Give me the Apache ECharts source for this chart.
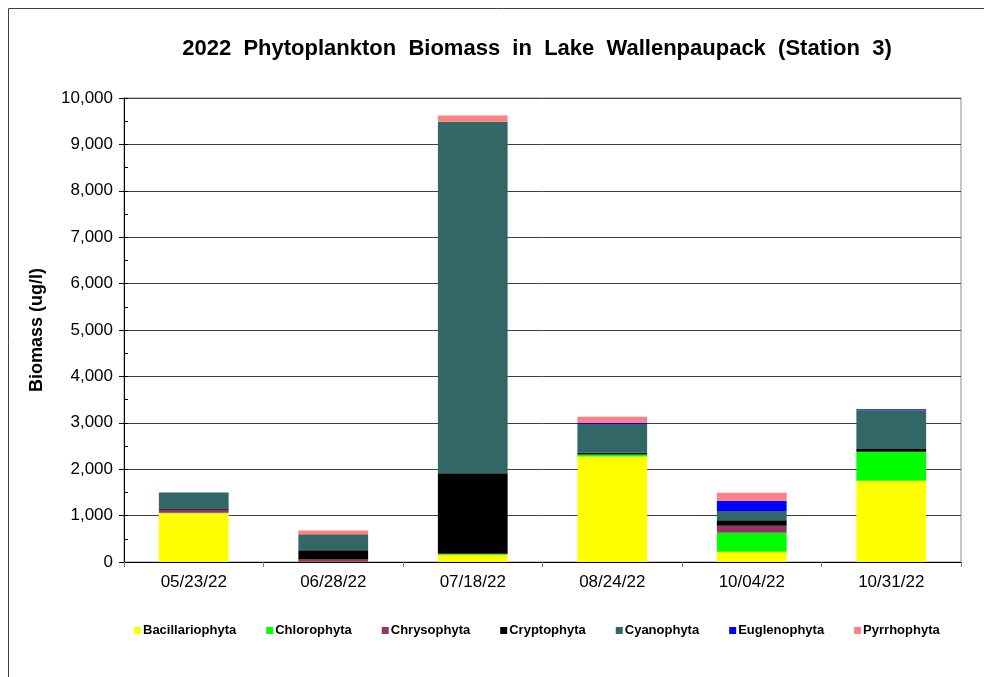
<!DOCTYPE html>
<html>
<head>
<meta charset="utf-8">
<script src="https://cdn.jsdelivr.net/npm/echarts@6/dist/echarts.min.js"></script>
<style>
  html, body { margin: 0; padding: 0; background: #fff; }
  #chart { width: 984px; height: 677px; }
</style>
</head>
<body>
<div id="chart"></div>
<script>
var dates = ['05/23/22', '06/28/22', '07/18/22', '08/24/22', '10/04/22', '10/31/22'];
var bacillariophyta = [1050, 5, 158, 2276, 223, 1753];
var chlorophyta = [10, 0, 15, 43, 409, 625];
var chrysophyta = [65, 50, 5, 0, 151, 0];
var cryptophyta = [15, 200, 1735, 36, 115, 57];
var cyanophyta = [360, 345, 7573, 618, 201, 833];
var euglenophyta = [0, 0, 0, 22, 223, 22];
var pyrrhophyta = [0, 79, 135, 136, 172, 0];
var yTicks = [0, 1000, 2000, 3000, 4000, 5000, 6000, 7000, 8000, 9000, 10000];

var font = 'Liberation Sans, Arial, sans-serif';

function bar(name, data, color) {
    return {
        name: name,
        type: 'bar',
        stack: 'total',
        barWidth: '50%',
        data: data,
        itemStyle: { color: color },
        emphasis: { disabled: true }
    };
}

var chart = echarts.init(document.getElementById('chart'));
chart.setOption({
    animation: false,
    title: {
        text: '2022  Phytoplankton  Biomass  in  Lake  Wallenpaupack  (Station  3)',
        left: 532,
        textAlign: 'center',
        top: 33,
        textStyle: { fontFamily: font, fontSize: 22, fontWeight: 'bold', color: '#000' }
    },
    graphic: [{
        type: 'rect',
        shape: { x: 8.5, y: 8.5, width: 1000, height: 700 },
        style: { fill: 'none', stroke: '#404040', lineWidth: 1 },
        silent: true
    }],
    legend: {
        left: 129,
        top: 619,
        icon: 'rect',
        itemWidth: 7,
        itemHeight: 7,
        itemGap: 30,
        textStyle: { fontFamily: font, fontSize: 13, fontWeight: 'bold', color: '#000', padding: [0, 0, 0, -3] },
        data: ['Bacillariophyta', 'Chlorophyta', 'Chrysophyta', 'Cryptophyta', 'Cyanophyta', 'Euglenophyta', 'Pyrrhophyta']
    },
    grid: {
        left: 124, right: 23, top: 98, bottom: 115,
        show: true, borderColor: '#8c8c8c', borderWidth: 1, backgroundColor: 'transparent'
    },
    xAxis: {
        type: 'category',
        data: dates,
        boundaryGap: true,
        axisLine: { lineStyle: { color: '#000', width: 1 } },
        axisTick: { show: true, alignWithLabel: false, length: 5, lineStyle: { color: '#808080' } },
        axisLabel: { fontFamily: font, fontSize: 17, color: '#000', margin: 12 }
    },
    yAxis: [{
        type: 'value',
        min: yTicks[0],
        max: yTicks[yTicks.length - 1],
        interval: 1000,
        name: 'Biomass (ug/l)',
        nameLocation: 'middle',
        nameGap: 78,
        nameTextStyle: { fontFamily: font, fontSize: 18, fontWeight: 'bold', color: '#000' },
        axisLine: { show: true, lineStyle: { color: '#000', width: 1 } },
        axisTick: { show: true, length: 5, lineStyle: { color: '#000' } },
        axisLabel: {
            fontFamily: font, fontSize: 17, color: '#000', margin: 11,
            formatter: function (v) { return v.toLocaleString('en-US'); }
        },
        splitLine: { show: true, lineStyle: { color: '#404040', width: 1 } }
    }, {
        type: 'value',
        position: 'left',
        min: 0,
        max: 10000,
        interval: 500,
        axisLine: { show: false },
        axisTick: { show: true, inside: true, length: 4, lineStyle: { color: '#000' } },
        axisLabel: { show: false },
        splitLine: { show: false }
    }],
    series: [
        bar('Bacillariophyta', bacillariophyta, '#FFFF00'),
        bar('Chlorophyta', chlorophyta, '#00FF00'),
        bar('Chrysophyta', chrysophyta, '#993366'),
        bar('Cryptophyta', cryptophyta, '#000000'),
        bar('Cyanophyta', cyanophyta, '#336666'),
        bar('Euglenophyta', euglenophyta, '#0000FF'),
        bar('Pyrrhophyta', pyrrhophyta, '#FF8080')
    ]
});
</script>
</body>
</html>
